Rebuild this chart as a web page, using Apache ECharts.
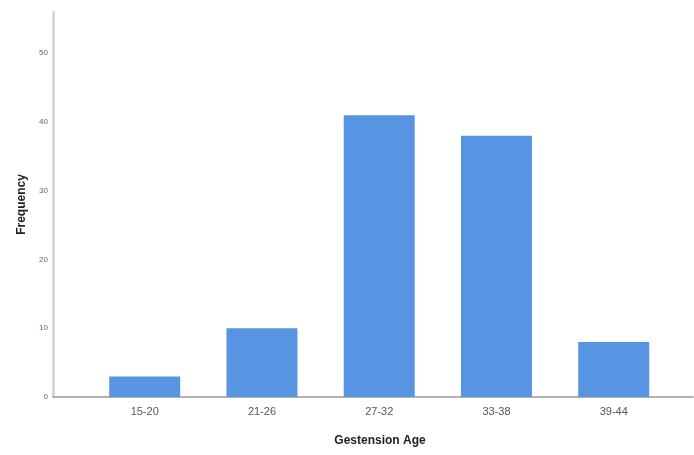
<!DOCTYPE html>
<html>
<head>
<meta charset="utf-8">
<script src="https://cdn.jsdelivr.net/npm/echarts@6/dist/echarts.min.js"></script>
<style>html,body{margin:0;padding:0;background:#fff}#c{width:694px;height:455px}</style>
</head>
<body>
<div id="c"></div>
<script>
const categories = ['15-20', '21-26', '27-32', '33-38', '39-44'];
const frequency = [3, 10, 41, 38, 8];
const yTicks = [0, 10, 20, 30, 40, 50];

const chart = echarts.init(document.getElementById('c'), null, {renderer: 'canvas'});
const positions = categories.map((_, i) => i);
chart.setOption({
  animation: false,
  backgroundColor: '#fff',
  grid: {left: 53, right: 1, top: 12, bottom: 58},
  xAxis: {
    type: 'value',
    min: -0.782,
    max: 4.676,
    name: 'Gestension Age',
    nameLocation: 'middle',
    nameGap: 38,
    nameTextStyle: {fontFamily: 'Liberation Sans', fontSize: 12, fontWeight: 'bold', color: '#222', padding: [0, 0, 0, 14]},
    axisLine: {show: true, onZero: false, lineStyle: {color: '#999', width: 1.5}},
    axisTick: {show: false},
    splitLine: {show: false},
    axisLabel: {
      customValues: positions,
      formatter: v => categories[Math.round(v)],
      fontFamily: 'Liberation Sans', fontSize: 11, color: '#555', margin: 9
    }
  },
  yAxis: {
    type: 'value',
    min: 0,
    max: 56,
    name: 'Frequency',
    nameLocation: 'middle',
    nameGap: 25,
    nameTextStyle: {fontFamily: 'Liberation Sans', fontSize: 12, fontWeight: 'bold', color: '#222'},
    axisLine: {show: true, onZero: false, lineStyle: {color: '#d2d2d2', width: 2.5}},
    axisTick: {show: false},
    splitLine: {show: false},
    axisLabel: {
      customValues: yTicks,
      fontFamily: 'Liberation Sans', fontSize: 8, color: '#666', margin: 5
    }
  },
  series: [{
    type: 'bar',
    data: frequency.map((v, i) => [positions[i], v]),
    barWidth: 71,
    itemStyle: {color: '#5795e3'}
  }]
});
</script>
</body>
</html>
